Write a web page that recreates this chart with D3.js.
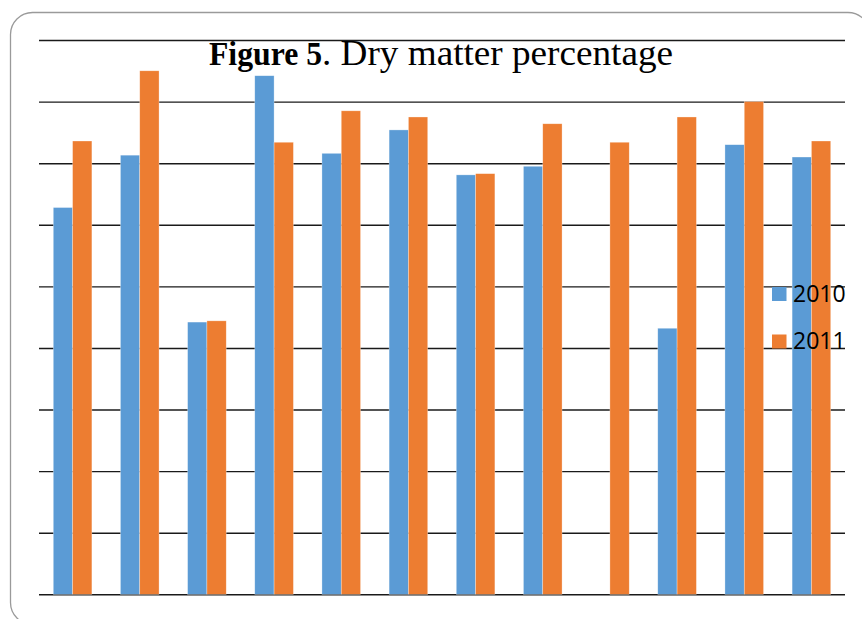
<!DOCTYPE html>
<html><head><meta charset="utf-8">
<script src="https://cdn.jsdelivr.net/npm/d3@7"></script>
<style>html,body{margin:0;padding:0;background:#fff;}svg{display:block;}</style>
</head><body>
<svg id="chart" width="862" height="619"></svg>
<script>
const categories = ["1","2","3","4","5","6","7","8","9","10","11","12"];
const seriesNames = ["2010","2011"];
const values2010 = [62.8, 71.3, 44.2, 84.2, 71.6, 75.4, 68.1, 69.5, null, 43.2, 73.0, 71.0];
const values2011 = [73.6, 85.0, 44.4, 73.4, 78.5, 77.5, 68.3, 76.4, 73.4, 77.5, 80.0, 73.6];
const yTicks = [0,10,20,30,40,50,60,70,80,90];
const colors = ["#5B9BD5", "#ED7D31"];

const svg = d3.select("#chart");
const pLeft = 39, pRight = 845, pTop = 40, pBottom = 594.3;

svg.append("rect").attr("x",10.5).attr("y",12.5).attr("width",859.5).attr("height",612)
  .attr("rx",22).attr("fill","none").attr("stroke","#9a9a9a").attr("stroke-width",1.3);

const y = d3.scaleLinear().domain([0,90]).range([pBottom, pTop]);
const x0 = d3.scaleBand().domain(categories).range([pLeft, pRight]).paddingInner(0.425).paddingOuter(0.2125);
const x1 = d3.scaleBand().domain(seriesNames).range([0, x0.bandwidth()]);

const grid = svg.append("g").attr("transform",`translate(${pLeft},0)`)
  .call(d3.axisLeft(y).tickValues(yTicks).tickSize(-(pRight-pLeft)).tickFormat(""));
grid.select(".domain").remove();
grid.selectAll(".tick line").attr("stroke","#1a1a1a").attr("stroke-width",1.4);

const data = categories.map((c,i)=>({c, vals:[{s:"2010",v:values2010[i]},{s:"2011",v:values2011[i]}]}));
const g = svg.append("g").selectAll("g").data(data).join("g")
  .attr("transform", d=>`translate(${x0(d.c)},0)`);
g.selectAll("rect").data(d=>d.vals.filter(e=>e.v!=null)).join("rect")
  .attr("x", e=>x1(e.s)).attr("width", x1.bandwidth())
  .attr("y", e=>y(e.v)).attr("height", e=>y(0)-y(e.v))
  .attr("fill", e=>colors[seriesNames.indexOf(e.s)])
  .attr("stroke","#fff").attr("stroke-opacity",0.5).attr("stroke-width",0.6);

// title
const t = svg.append("text").attr("x", 209).attr("y", 65)
  .attr("font-family","'Liberation Serif','Times New Roman',serif").attr("fill","#000");
t.append("tspan").attr("font-weight","bold").attr("font-size",34)
  .attr("textLength",113).attr("lengthAdjust","spacingAndGlyphs").text("Figure 5");
t.append("tspan").attr("font-size",35)
  .attr("textLength",351).attr("lengthAdjust","spacingAndGlyphs").text(". Dry matter percentage");

// legend
const leg = svg.append("g").selectAll("g").data(seriesNames).join("g")
  .attr("transform",(d,i)=>`translate(772,${287 + i*47.5})`);
leg.append("rect").attr("width",14.5).attr("height",14).attr("fill",(d,i)=>colors[i]);
leg.append("text").attr("x",21).attr("y",14.7).attr("font-family","'Open Sans',sans-serif")
  .attr("font-size",23).attr("fill","#000").text(d=>d);
</script>
</body></html>
